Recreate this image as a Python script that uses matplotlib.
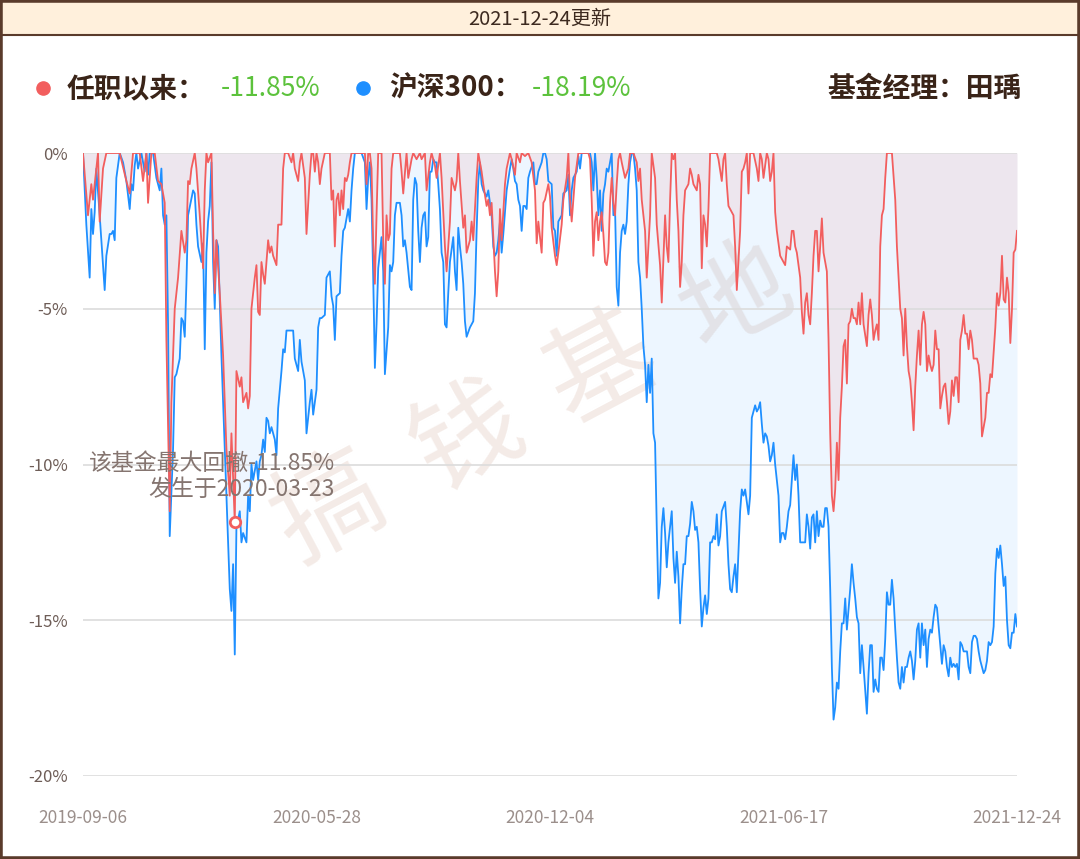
import matplotlib
matplotlib.use('Agg')
import matplotlib.pyplot as plt
from matplotlib.patches import Rectangle
from matplotlib.lines import Line2D
import numpy as np

plt.rcParams['font.family'] = ['Noto Sans CJK SC', 'DejaVu Sans']

# ---------------- data ----------------
update_text = '2021-12-24更新'
fund_name = '任职以来：'
fund_mdd = '-11.85%'
index_name = '沪深300：'
index_mdd = '-18.19%'
manager_text = '基金经理：田瑀'
mdd_note_1 = '该基金最大回撤-11.85%'
mdd_note_2 = '发生于2020-03-23'

n_days = 561
tick_pos = [0, 140, 280, 420, 560]
tick_labels = ['2019-09-06', '2020-05-28', '2020-12-04', '2021-06-17', '2021-12-24']
y_ticks = [0, -5, -10, -15, -20]

# fund drawdown (%) : trading-day index, value
fund_idx = [0, 3, 5, 6, 9, 10, 12, 14, 22, 26, 28, 30, 34, 36, 38, 39, 41, 43, 45, 47, 49, 50, 52, 53, 55, 57, 59, 61, 62, 63, 64, 65, 67, 68, 70, 72, 73, 74, 75, 77, 78, 79, 80, 82, 84, 86, 88, 89, 91, 92, 94, 95, 96, 98, 99, 100,
            101, 103, 104, 105, 106, 107, 108, 109, 110, 111, 112, 113, 114, 116, 117, 119, 120, 121, 123, 125, 126, 127, 128, 129, 130, 131, 133, 134, 136, 137, 138, 139, 140, 141, 142, 143, 145, 148, 149, 150,
            151, 152, 153, 154, 155, 156, 157, 158, 159, 160, 161, 169, 170, 171, 172, 173, 174, 175, 176, 177, 179, 180, 181, 182, 183, 184, 185, 186, 190, 191, 192, 194, 195, 197, 198, 200,
            202, 203, 205, 206, 208, 209, 211, 212, 214, 215, 217, 218, 220, 221, 223, 224, 225, 226, 228, 229, 230, 232, 233, 234, 236, 237, 239, 240, 242, 243, 244, 245, 247, 248, 249, 250,
            251, 253, 254, 256, 257, 259, 260, 262, 263, 265, 267, 269, 271, 272, 273, 275, 276, 277, 279, 280, 281, 283, 284, 285, 287, 288, 290, 291, 292, 293, 294, 295, 297, 303, 304, 305,
            306, 307, 308, 309, 310, 311, 312, 313, 314, 315, 316, 317, 318, 319, 320, 321, 322, 323, 325, 327, 328, 330, 332, 333, 334, 335, 337, 338, 340, 341, 343, 344, 346, 347, 349, 350,
            351, 352, 353, 354, 355, 356, 357, 358, 359, 360, 361, 363, 364, 365, 366, 368, 369, 370, 371, 372, 373, 374, 375, 376, 380, 381, 383, 384, 385, 386, 387, 389, 390, 391, 392, 394,
            395, 396, 397, 398, 399, 400, 402, 404, 405, 406, 407, 408, 409, 410, 411, 412, 413, 414, 415, 416, 418, 420, 421, 422, 424, 425, 426, 427, 428, 430, 431, 432, 433, 434, 435, 436,
            437, 438, 439, 440, 441, 442, 443, 444, 445, 446, 447, 448, 449, 450, 451, 452, 453, 454, 455, 456, 457, 458, 459, 460, 461, 462, 463, 464, 465, 466, 467, 468, 470, 471, 472, 473,
            474, 475, 476, 477, 478, 479, 480, 481, 482, 485, 487, 488, 490, 491, 492, 493, 494, 495, 496, 497, 498, 499, 500, 501, 502, 503, 504, 505, 506, 507, 508, 509, 510, 511, 512, 513,
            514, 515, 516, 517, 518, 519, 520, 521, 522, 523, 524, 525, 526, 527, 528, 529, 530, 531, 532, 533, 534, 536, 537, 538, 539, 541, 542, 543, 544, 545, 547, 548, 549, 550, 551, 552,
            553, 554, 555, 556, 557, 558, 559, 560]
fund_dd = [0, -2.0, -1.0, -1.5, 0, -2.2, -0.5, 0, 0, -0.9, -1.3, 0, 0, -0.9, 0, -1.6, 0, 0, -0.9, -1.0, -1.6, -6.0, -11.5, -8.0, -5.0, -4.0, -2.5, -3.2, -2.8, -0.9, -1.0, -0.5, 0, -0.5, -2.0, -3.7, -1.2, 0, -0.3, 0, -2.5, -4.5, -2.8, -4.5, -6.5, -9.5, -11.0, -9.0, -11.85, -7.0, -7.5, -7.2, -8.0, -7.7, -8.2, -7.8,
           -5.0, -4.0, -3.6, -5.1, -5.2, -3.5, -3.9, -4.2, -3.5, -2.8, -3.2, -3.0, -3.3, -3.6, -2.3, -2.3, -0.5, 0, 0, -0.3, 0, -0.5, -0.7, -0.9, -0.3, 0, -0.8, -2.6, -0.7, 0, 0, -0.6, 0, -0.3, -1.0, -0.5, 0, 0, -1.5, -1.2,
           -3.0, -1.5, -1.3, -2.0, -1.2, -1.8, -0.8, -0.9, -0.7, -0.3, 0, 0, -1.0, 0, 0, -0.5, -2.9, -4.2, -2.0, 0, 0, -2.8, -4.2, -2.0, -2.8, -2.6, -0.5, 0, 0, -0.6, -1.3, 0, -0.8, -0.2, 0, -0.2,
           0, -0.2, 0, -1.2, -0.3, 0, -0.4, -0.8, 0, -0.8, -3.0, -3.8, -2.2, -0.8, -1.2, -0.9, 0, -0.9, -2.4, -2.0, -3.2, -2.8, -2.2, -2.8, -0.8, 0, -0.6, -1.0, -1.7, -1.5, -2.0, -1.6, -3.8, -4.6, -3.8, -1.8,
           -2.8, -1.0, -0.5, 0, -0.2, -0.7, 0, -0.3, 0, -0.1, 0, -0.3, -1.2, -2.9, -2.2, -3.2, -1.6, -1.5, -1.0, -1.4, -2.4, -3.3, -3.6, -3.2, -2.3, -1.5, -0.8, 0, -1.5, -2.2, -1.5, -0.8, 0, 0, -0.2, -1.5,
           -3.3, -2.2, -1.9, -2.8, -2.2, -1.9, -2.6, -3.5, -3.6, -3.2, -1.6, -0.8, -1.6, -2.0, -1.0, -0.2, 0, -0.3, -0.8, -0.5, 0, 0, -0.3, -0.9, -0.5, -1.5, -2.5, -4.0, -2.0, 0, -0.8, -2.3, -3.6, -4.8, -2.0, -3.0,
           -3.5, -1.5, 0, -0.2, 0, -1.5, -2.5, -4.3, -3.5, -2.0, -1.2, -1.0, -0.5, -0.7, -1.0, -1.2, -0.7, -1.0, -3.7, -2.0, -2.3, -3.0, -1.8, 0, 0, -0.2, -0.9, -0.2, 0, -1.0, -1.7, -1.9, -2.0, -3.0, -4.4, -2.5,
           -0.6, -0.5, -0.3, 0, -1.3, 0, 0, -0.5, -0.9, 0, -0.2, -0.8, -0.4, 0, -0.2, -0.9, -0.6, 0, -1.9, -2.5, -3.3, -3.5, -3.6, -3.0, -3.1, -2.5, -2.5, -3.0, -3.2, -4.0, -5.1, -5.8, -4.8, -4.5, -5.2, -5.5,
           -4.5, -3.3, -2.5, -2.5, -3.8, -3.0, -2.1, -3.2, -3.5, -3.8, -6.0, -9.0, -11.0, -11.5, -10.8, -9.3, -10.5, -8.5, -7.5, -6.2, -6.0, -7.4, -5.5, -5.4, -5.0, -5.3, -5.3, -5.5, -4.8, -5.5, -4.5, -5.5, -6.2, -5.2, -4.7, -5.2,
           -6.0, -5.7, -5.5, -6.0, -3.0, -2.0, -1.8, -0.8, 0, 0, -1.5, -3.0, -5.0, -5.3, -6.5, -5.0, -6.2, -7.0, -7.3, -8.0, -8.9, -7.5, -6.5, -5.7, -6.8, -5.5, -5.1, -5.5, -7.0, -6.5, -6.8, -7.0, -6.8, -5.7, -6.3, -6.3,
           -8.2, -7.8, -7.5, -7.4, -8.0, -8.7, -8.3, -7.3, -7.8, -7.2, -7.2, -8.0, -6.0, -5.7, -5.2, -5.8, -5.8, -6.3, -5.7, -6.0, -6.6, -6.6, -6.8, -7.4, -9.1, -8.5, -7.7, -7.7, -7.1, -7.2, -5.6, -4.5, -4.9, -4.5, -3.3, -4.7,
           -4.8, -4.0, -4.5, -6.1, -5.0, -3.2, -3.1, -2.5]

# CSI 300 drawdown (%) : trading-day index, value
hs_idx = [0, 2, 4, 5, 6, 7, 8, 10, 13, 14, 16, 17, 18, 19, 20, 22, 24, 26, 28, 29, 30, 31, 32, 33, 35, 36, 37, 38, 39, 40, 42, 44, 46, 47, 48, 49, 50, 51, 52, 54, 55, 56, 58, 59, 60, 61, 62, 63, 66, 67, 68, 69, 71, 72, 73, 74,
          75, 76, 77, 78, 79, 80, 81, 83, 85, 86, 88, 89, 90, 91, 92, 94, 95, 96, 98, 99, 100, 101, 102, 104, 105, 106, 107, 108, 109, 110, 111, 112, 113, 115, 116, 117, 119, 120, 121, 122, 124, 125, 126, 127, 129, 130,
          131, 133, 134, 135, 136, 137, 138, 139, 140, 141, 142, 143, 145, 146, 148, 149, 150, 151, 152, 154, 155, 156, 157, 159, 160, 161, 162, 163, 167, 169, 170, 171, 172, 173, 174, 175, 176, 177, 178, 179, 180, 181,
          183, 184, 185, 186, 187, 188, 190, 191, 192, 193, 194, 196, 197, 198, 199, 200, 201, 202, 203, 204, 205, 206, 207, 208, 209, 210, 211, 212, 213, 214, 215, 216, 217, 218, 219, 220, 222, 223, 224, 225, 226, 227,
          228, 229, 230, 232, 233, 234, 235, 236, 237, 238, 239, 240, 242, 243, 245, 246, 247, 248, 249, 250, 251, 252, 253, 254, 256, 257, 258, 259, 260, 261, 262, 263, 264, 265, 266, 267, 268, 270, 271, 272, 273, 275,
          276, 277, 278, 279, 281, 282, 283, 284, 285, 287, 288, 290, 291, 292, 293, 294, 296, 297, 298, 299, 303, 304, 305, 306, 307, 308, 309, 310, 311, 312, 313, 314, 315, 316, 317, 318, 319, 320, 321, 322, 323, 324,
          325, 326, 327, 328, 329, 330, 331, 332, 333, 334, 335, 336, 337, 338, 339, 340, 341, 342, 343, 344, 345, 346, 347, 348, 349, 350, 351, 352, 353, 354, 355, 356, 357, 358, 359, 360, 361, 362, 363, 364, 365, 366,
          367, 368, 369, 370, 371, 372, 373, 374, 375, 376, 377, 378, 379, 380, 381, 382, 383, 385, 386, 387, 388, 389, 390, 391, 392, 394, 395, 396, 397, 398, 399, 400, 401, 402, 403, 404, 405, 406, 407, 408, 409, 410,
          411, 412, 413, 414, 415, 416, 417, 418, 419, 420, 421, 422, 423, 424, 425, 426, 427, 428, 429, 430, 431, 432, 433, 434, 435, 436, 437, 438, 439, 440, 441, 442, 443, 444, 445, 446, 447, 448, 449, 450, 451, 452,
          453, 454, 455, 456, 457, 458, 460, 461, 462, 463, 464, 465, 466, 467, 468, 470, 471, 472, 473, 474, 475, 476, 477, 478, 479, 480, 481, 482, 483, 484, 485, 486, 487, 488, 489, 490, 491, 492, 493, 494, 495, 496,
          497, 498, 499, 500, 501, 502, 503, 504, 505, 506, 507, 508, 509, 510, 511, 512, 513, 514, 515, 516, 517, 518, 519, 520, 521, 522, 523, 524, 525, 526, 527, 528, 529, 530, 531, 532, 533, 534, 535, 536, 537, 538,
          539, 540, 541, 542, 543, 544, 545, 546, 547, 548, 549, 550, 551, 552, 553, 554, 555, 556, 557, 558, 559, 560]
hs_dd = [0, -2.3, -4.0, -1.8, -2.6, -1.9, -0.5, -2.0, -4.4, -3.3, -2.6, -2.6, -2.5, -2.8, -0.8, 0, -0.3, -0.9, -1.8, -1.0, -1.2, -0.4, 0, -0.5, 0, -0.3, -0.6, 0, -0.7, 0, 0, -0.8, -1.2, -0.5, -2.0, -2.3, -2.0, -5.5, -12.3, -9.5, -7.2, -7.1, -6.6, -5.3, -5.4, -5.9, -4.2, -2.0, -1.2, -1.3, -2.3, -3.0, -3.5, -2.9, -6.3, -3.2,
         -2.2, -1.7, -0.3, -3.5, -5.0, -2.8, -3.0, -6.5, -9.5, -11.0, -14.0, -14.7, -13.2, -16.1, -12.0, -11.5, -12.5, -12.2, -12.5, -11.0, -11.5, -10.0, -10.5, -9.9, -10.5, -9.9, -9.7, -9.2, -9.6, -8.5, -8.6, -9.0, -8.8, -9.2, -9.7, -8.2, -7.0, -6.3, -6.4, -5.7, -5.7, -5.7, -5.7, -6.6, -7.0, -6.0,
         -6.7, -7.3, -9.0, -8.5, -8.0, -7.6, -8.4, -8.0, -7.6, -5.6, -5.3, -5.3, -5.2, -4.0, -3.8, -4.6, -4.9, -6.0, -4.6, -4.5, -3.3, -2.5, -2.4, -1.8, -2.2, -1.2, -0.5, 0, 0, -0.3, -1.8, -0.8, -0.3, -1.5, -4.0, -6.9, -5.5, -3.7, -3.2, -2.7, -3.8, -7.1,
         -5.6, -3.6, -3.8, -3.5, -2.0, -1.6, -1.6, -2.0, -3.0, -2.8, -3.2, -4.3, -4.4, -1.5, -0.8, -1.0, -2.5, -3.5, -2.4, -2.0, -1.9, -3.0, -2.7, -0.6, -0.6, -0.2, -0.3, -0.3, -1.0, -1.8, -3.2, -3.5, -5.5, -5.6, -4.5, -3.5, -2.7, -3.8, -4.4, -2.4, -3.0, -3.5,
         -4.2, -5.4, -5.9, -5.6, -5.5, -5.4, -4.5, -2.5, -0.9, -0.3, -1.0, -1.2, -1.4, -1.2, -2.0, -3.0, -3.3, -3.2, -2.8, -2.2, -3.2, -2.6, -1.9, -1.2, -0.5, -0.2, -0.5, -0.9, -1.0, -1.5, -1.7, -2.5, -1.7, -1.7, -1.8, -0.8, -0.6, -0.3, -1.0, -1.0, -0.6, -0.3,
         0, 0, -0.2, -0.9, -1.0, -2.4, -2.5, -3.3, -2.2, -2.0, -1.3, -1.2, -0.7, -2.0, -1.2, -0.8, -0.6, -0.1, -0.5, 0, 0, 0, -0.3, -1.2, 0, -0.8, -2.0, -1.2, -2.5, -1.3, -1.0, -0.5, -0.6, -0.3, 0, -2.0, -1.8, -4.3, -4.9, -3.2, -2.5, -2.3,
         -2.6, -2.2, -1.0, -0.3, 0, 0, -0.5, -1.2, -3.5, -4.0, -5.0, -6.2, -6.8, -8.0, -6.8, -7.7, -6.6, -9.0, -9.3, -12.0, -14.3, -13.8, -12.0, -11.4, -12.2, -13.3, -12.5, -12.0, -11.5, -13.0, -13.8, -12.8, -13.6, -15.1, -14.0, -13.2, -13.2, -12.3, -12.3, -11.9, -11.2, -11.5,
         -12.1, -12.0, -12.5, -14.0, -15.2, -14.6, -14.2, -14.8, -14.3, -12.5, -12.5, -12.3, -12.4, -11.6, -12.6, -12.3, -11.5, -11.2, -12.0, -13.2, -14.0, -14.1, -13.6, -13.2, -14.1, -11.5, -10.8, -11.0, -10.8, -11.2, -11.6, -11.0, -8.5, -8.3, -8.1, -8.3, -8.2, -8.0, -8.7, -9.3, -9.0, -9.1,
         -9.4, -9.9, -9.7, -9.3, -10.0, -10.5, -11.0, -12.5, -12.2, -12.2, -12.4, -12.0, -11.5, -11.3, -10.5, -9.7, -10.5, -10.0, -11.0, -12.5, -12.5, -12.5, -12.5, -11.6, -12.0, -12.7, -11.7, -11.6, -12.5, -11.5, -12.3, -11.8, -12.0, -12.0, -11.4, -11.4, -12.0, -14.0, -16.5, -18.19, -17.8, -17.0,
         -17.2, -16.0, -15.1, -15.1, -14.3, -15.3, -14.0, -13.2, -13.8, -14.3, -14.9, -15.1, -16.7, -15.8, -16.5, -18.0, -16.7, -15.8, -15.8, -17.3, -16.9, -17.2, -17.3, -16.2, -16.2, -16.6, -15.6, -14.1, -14.5, -14.5, -13.7, -14.3, -15.3, -16.2, -17.0, -17.2, -16.5, -17.0, -16.5, -16.5, -16.2, -16.0,
         -16.3, -16.9, -16.3, -15.3, -15.1, -16.2, -15.1, -15.8, -15.3, -16.5, -15.6, -15.3, -15.4, -14.9, -14.5, -14.6, -15.2, -15.8, -16.4, -15.8, -16.0, -16.5, -16.8, -16.2, -16.5, -16.4, -16.5, -16.4, -16.9, -15.7, -15.8, -16.0, -16.0, -16.0, -16.5, -16.7, -15.7, -15.5, -15.5, -15.6, -16.0, -16.3,
         -16.5, -16.7, -16.6, -16.3, -15.7, -15.8, -15.7, -15.2, -13.5, -12.7, -13.0, -12.6, -13.2, -13.9, -13.6, -15.0, -15.8, -15.9, -15.4, -15.4, -14.8, -15.2]

# ---------------- figure ----------------
W, H = 1080, 859
fig = plt.figure(figsize=(W / 100, H / 100), dpi=100)
fig.patch.set_facecolor('white')

def fx(px):
    return px / W

def fy(py):
    return 1 - py / H

brown = '#5a3b2b'
# header band
fig.add_artist(Rectangle((0, fy(35)), 1, 35 / H, transform=fig.transFigure,
                         facecolor='#fff0dc', edgecolor='none', zorder=0))
fig.add_artist(Line2D([0, 1], [fy(35), fy(35)], transform=fig.transFigure, color=brown, lw=1.5))
fig.add_artist(Rectangle((0, 0), 1, 1, transform=fig.transFigure, fill=False,
                         edgecolor=brown, lw=4, zorder=10))
fig.text(0.5, fy(19), update_text, ha='center', va='center', fontsize=14.5, color='#3d2a20')

# legend row
red = '#f25e5e'
blue = '#1e8fff'
green = '#5cc23c'
dark = '#3a2418'
fig.add_artist(Line2D([fx(43)], [fy(88)], transform=fig.transFigure, marker='o', ms=9.5,
                      color=red, lw=0))
fig.text(fx(67), fy(89), fund_name, ha='left', va='center', fontsize=20, fontweight='bold', color=dark)
fig.text(fx(221), fy(89), fund_mdd, ha='left', va='center', fontsize=19, color=green)
fig.add_artist(Line2D([fx(363)], [fy(88)], transform=fig.transFigure, marker='o', ms=9.5,
                      color=blue, lw=0))
fig.text(fx(389), fy(89), index_name, ha='left', va='center', fontsize=20, fontweight='bold', color=dark)
fig.text(fx(532), fy(89), index_mdd, ha='left', va='center', fontsize=19, color=green)
fig.text(fx(1022), fy(89), manager_text, ha='right', va='center', fontsize=20, fontweight='bold', color=dark)

# plot area
ax = fig.add_axes([fx(83), fy(776), (1017 - 83) / W, (776 - 153) / H])
ax.set_facecolor('none')
ax.set_xlim(0, n_days - 1)
ax.set_ylim(-20, 0)
for s in ax.spines.values():
    s.set_visible(False)
ax.set_yticks(y_ticks)
ax.set_yticklabels([f'{v}%' for v in y_ticks])
ax.set_xticks(tick_pos)
ax.set_xticklabels(tick_labels)
ax.tick_params(axis='y', length=0, pad=11, labelsize=12, labelcolor='#6e5d57')
ax.tick_params(axis='x', length=0, pad=24, labelsize=12.5, labelcolor='#9b8f8b')
ax.grid(axis='y', color='#dcdcdc', lw=1.2, zorder=0)
ax.grid(axis='x', visible=False)

# watermark
for ch, (px, py) in zip('搞钱基地', [(330, 510), (468, 440), (602, 370), (737, 300)]):
    ax.text(fx(px), fy(py), ch, transform=fig.transFigure, ha='center', va='center',
            fontsize=78, rotation=28, color='#f4ebe7', zorder=0.5)

ax.fill_between(hs_idx, hs_dd, 0, color=blue, alpha=0.08, lw=0, zorder=1)
ax.fill_between(fund_idx, fund_dd, 0, color=red, alpha=0.10, lw=0, zorder=1.1)
ax.plot(hs_idx, hs_dd, color=blue, lw=1.3, zorder=3)
ax.plot(fund_idx, fund_dd, color=red, lw=1.3, zorder=4)

i_min = int(np.argmin(fund_dd))
ax.plot(fund_idx[i_min], fund_dd[i_min], 'o', ms=7.5, mfc='white', mec=red, mew=2, zorder=6)

fig.text(fx(335), fy(463), mdd_note_1, ha='right', va='center', fontsize=16.5, color='#857570', zorder=7)
fig.text(fx(335), fy(490), mdd_note_2, ha='right', va='center', fontsize=16.5, color='#857570', zorder=7)

fig.savefig('out.png', dpi=100, facecolor='white')
